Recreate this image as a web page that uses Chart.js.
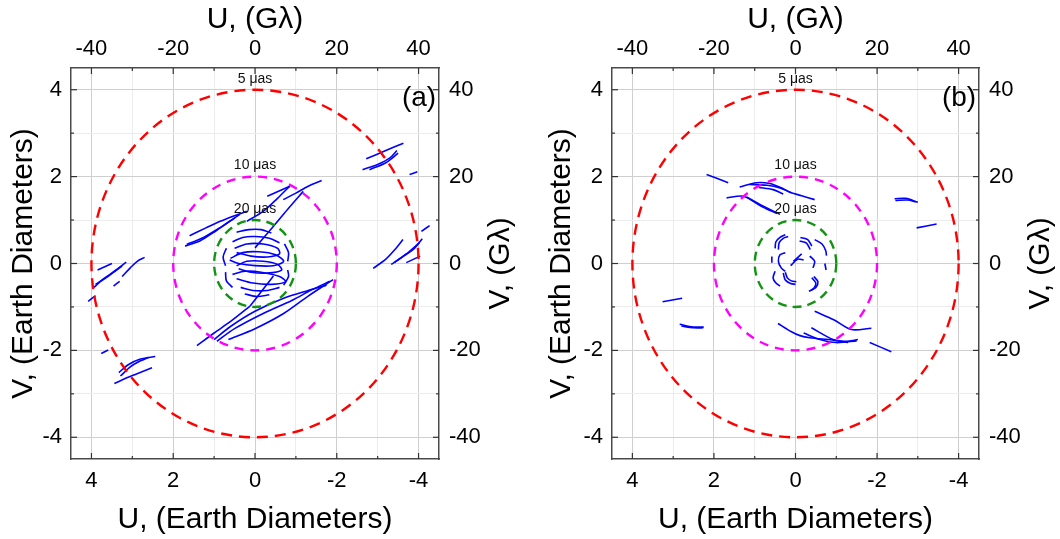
<!DOCTYPE html>
<html>
<head>
<meta charset="utf-8">
<script src="https://cdn.jsdelivr.net/npm/chart.js@4/dist/chart.umd.min.js"></script>
<style>
  body { margin: 0; background: #fff; }
  #wrap { position: relative; width: 1060px; height: 539px; }
  canvas { position: absolute; top: 0; }
</style>
</head>
<body>
<div id="wrap">
  <canvas id="panelA" width="530" height="539" style="left:0"></canvas>
  <canvas id="panelB" width="530" height="539" style="left:530px"></canvas>
</div>
<script>
// axis ticks (Earth diameters and G-lambda)
const edTicks = [-4, -3, -2, -1, 0, 1, 2, 3, 4];
const glTicks = [-40, -30, -20, -10, 0, 10, 20, 30, 40];
// resolution rings
const ringRadii = [4, 2, 1];
const ringLabels = ['5 \u03bcas', '10 \u03bcas', '20 \u03bcas'];
const panelLabels = ['(a)', '(b)'];

// panel (a) uv tracks, [u, v] in Earth diameters
const a_left = [
  [[3.85, -0.15], [3.5, 0.0]],
  [[3.94, -0.55], [3.7, -0.35], [3.4, -0.15], [3.15, 0.03]],
  [[3.9, -0.48], [3.6, -0.3], [3.25, -0.06]],
  [[4.08, -0.87], [3.9, -0.74]],
  [[3.46, -0.52], [3.31, -0.41]],
  [[3.25, -0.3], [3.05, -0.1], [2.88, 0.05], [2.7, 0.14]]
];
const a_lowLeft = [
  [[3.76, -2.07], [3.59, -1.99]],
  [[3.33, -2.51], [3.1, -2.33], [2.8, -2.2], [2.44, -2.14]],
  [[3.44, -2.76], [3.0, -2.58], [2.52, -2.4]],
  [[3.29, -2.59], [3.05, -2.38], [2.8, -2.24], [2.6, -2.16]]
];
const a_upRight = [
  [[-2.72, 2.41], [-3.2, 2.6], [-3.63, 2.77]],
  [[-2.63, 2.16], [-3.0, 2.28], [-3.3, 2.43], [-3.47, 2.6]],
  [[-2.8, 2.16], [-3.2, 2.32], [-3.5, 2.54]],
  [[-3.78, 2.05], [-3.97, 2.11]]
];
const a_right = [
  [[-2.89, -0.11], [-3.2, 0.1], [-3.45, 0.35], [-3.62, 0.55]],
  [[-3.33, -0.02], [-3.6, 0.15], [-3.9, 0.35], [-4.09, 0.57]],
  [[-3.7, 0.02], [-4.04, 0.17]],
  [[-4.07, 0.74], [-4.27, 0.87]],
  [[-3.41, 0.02], [-3.7, 0.22], [-4.02, 0.48]]
];
const a_upMid = [
  [[1.6, 0.64], [1.2, 0.82], [0.85, 0.97], [0.5, 1.1], [0.2, 1.2]],
  [[1.71, 0.4], [1.35, 0.52], [1.02, 0.71], [0.7, 0.92], [0.37, 1.13]],
  [[1.67, 0.44], [1.3, 0.58], [0.9, 0.8], [0.49, 1.05]],
  [[0.2, 0.97], [-0.2, 1.2], [-0.55, 1.5], [-0.85, 1.78]],
  [[-0.69, 1.47], [-1.0, 1.62], [-1.3, 1.78], [-1.63, 1.91]],
  [[-0.3, 1.55], [-0.85, 1.78]],
  [[0.0, 0.36], [-0.4, 0.8], [-0.8, 1.25], [-1.18, 1.66]]
];
const a_lowMid = [
  [[1.42, -1.89], [1.0, -1.6], [0.55, -1.3], [0.12, -0.98]],
  [[0.65, -1.75], [0.0, -1.5], [-0.7, -1.15], [-1.3, -0.75], [-1.91, -0.37]],
  [[0.93, -1.79], [0.5, -1.5], [-0.2, -1.15], [-0.9, -0.85], [-1.4, -0.6], [-1.83, -0.41]],
  [[1.0, -1.75], [0.6, -1.45], [0.0, -1.1], [-0.7, -0.8], [-1.3, -0.62], [-1.75, -0.5]],
  [[0.12, -0.98], [-0.15, -0.65], [-0.45, -0.29]]
];
const a_core = [
  [[0.45, 0.72], [0.15, 0.78], [-0.15, 0.78], [-0.4, 0.7]],
  [[0.55, 0.5], [0.3, 0.6], [0.0, 0.62], [-0.35, 0.58], [-0.6, 0.48]],
  [[0.5, 0.35], [0.2, 0.45], [-0.2, 0.45], [-0.55, 0.35], [-0.6, 0.22], [-0.3, 0.15], [0.1, 0.17], [0.45, 0.25]],
  [[0.6, 0.12], [0.3, 0.25], [-0.1, 0.27], [-0.5, 0.2], [-0.7, 0.05], [-0.45, -0.05], [0.0, -0.05], [0.4, 0.0], [0.62, 0.08]],
  [[0.45, -0.05], [0.2, 0.05], [-0.2, 0.05], [-0.55, -0.02], [-0.65, -0.15], [-0.3, -0.22], [0.1, -0.2], [0.4, -0.12]],
  [[0.55, -0.25], [0.25, -0.18], [-0.15, -0.2], [-0.6, -0.3], [-0.75, -0.42], [-0.4, -0.48], [0.05, -0.45], [0.45, -0.35]],
  [[0.35, -0.55], [0.05, -0.62], [-0.3, -0.62], [-0.6, -0.55]],
  [[0.25, -0.7], [-0.05, -0.76], [-0.35, -0.72]],
  [[-0.72, 0.45], [-0.82, 0.25], [-0.8, 0.05]],
  [[-0.8, -0.15], [-0.82, -0.3], [-0.7, -0.5]],
  [[0.7, 0.35], [0.78, 0.15], [0.72, -0.05]],
  [[0.72, -0.2], [0.7, -0.4], [0.55, -0.55]]
];

// panel (b) uv tracks
const b_upper = [
  [[2.18, 2.05], [1.65, 1.86]],
  [[1.37, 1.76], [0.96, 1.86], [0.63, 1.84], [0.3, 1.72], [0.14, 1.64], [-0.15, 1.56], [-0.47, 1.47]],
  [[1.13, 1.82], [0.7, 1.8], [0.38, 1.74], [0.1, 1.63]],
  [[0.9, 1.75], [0.55, 1.7], [0.3, 1.6]],
  [[1.69, 1.51], [1.28, 1.55], [0.85, 1.35], [0.38, 1.13]],
  [[1.2, 1.53], [0.8, 1.3], [0.45, 1.15]]
];
const b_upRight = [
  [[-2.43, 1.49], [-2.7, 1.5], [-3.0, 1.41]],
  [[-2.45, 1.45], [-2.75, 1.46], [-2.95, 1.42]],
  [[-2.97, 0.82], [-3.46, 0.91]]
];
const b_lower = [
  [[-0.47, -1.1], [-0.95, -1.3], [-1.37, -1.52], [-1.86, -1.49]],
  [[0.43, -1.38], [0.1, -1.57], [-0.11, -1.66], [-0.35, -1.71], [-0.8, -1.75], [-1.25, -1.79], [-1.53, -1.75]],
  [[-0.39, -1.48], [-0.92, -1.75], [-1.29, -1.82]],
  [[-0.2, -1.6], [-0.6, -1.75], [-1.0, -1.82], [-1.5, -1.78]],
  [[-1.82, -1.82], [-2.35, -2.03]]
];
const b_lowLeft = [
  [[3.26, -0.88], [2.78, -0.8]],
  [[2.84, -1.4], [2.51, -1.46], [2.25, -1.46]],
  [[2.8, -1.44], [2.5, -1.48], [2.26, -1.48]]
];
const b_core = [
  [[0.42, 0.32], [0.4, 0.48], [0.3, 0.58], [0.18, 0.62]],
  [[0.5, 0.35], [0.48, 0.5], [0.38, 0.6], [0.25, 0.66]],
  [[-0.1, 0.52], [-0.27, 0.47], [-0.36, 0.32]],
  [[-0.12, 0.6], [-0.3, 0.55], [-0.4, 0.4]],
  [[-0.47, 0.55], [-0.65, 0.45], [-0.74, 0.3], [-0.76, 0.18]],
  [[0.58, 0.16], [0.58, 0.02]],
  [[0.25, 0.25], [0.38, 0.2], [0.42, 0.05], [0.35, -0.1], [0.25, -0.18]],
  [[0.05, 0.05], [-0.15, 0.22]],
  [[0.12, -0.05], [-0.05, 0.1], [-0.2, 0.08]],
  [[-0.35, 0.17], [-0.47, 0.05], [-0.43, -0.1]],
  [[-0.72, 0.0], [-0.75, -0.15]],
  [[0.5, -0.18], [0.55, -0.33], [0.48, -0.45], [0.38, -0.52]],
  [[0.25, -0.2], [0.2, -0.33], [0.1, -0.4], [-0.02, -0.42]],
  [[0.3, -0.22], [0.25, -0.38], [0.12, -0.46], [0.0, -0.48]],
  [[-0.45, -0.3], [-0.55, -0.42], [-0.5, -0.55], [-0.38, -0.62]],
  [[-0.4, -0.33], [-0.5, -0.45], [-0.45, -0.57], [-0.33, -0.64]]
];

const tracksA = [...a_left, ...a_lowLeft, ...a_upRight, ...a_right, ...a_upMid, ...a_lowMid, ...a_core];
const tracksB = [...b_upper, ...b_upRight, ...b_lower, ...b_lowLeft, ...b_core];

const FONT = "'Liberation Sans', Arial, sans-serif";
const ringColors = ['#ff0000', '#ff00ff', '#139313'];
const ringDash = [[11, 7], [9, 7], [9, 6]];

function isMajor(scale, v) {
  return scale.id.endsWith('2') ? v % 20 === 0 : v % 2 === 0;
}

const decor = {
  id: 'decor',
  afterDatasetsDraw(chart) {
    const { ctx, scales: { x, y } } = chart;
    const cx = x.getPixelForValue(0), cy = y.getPixelForValue(0);
    ctx.save();
    ringRadii.forEach((r, i) => {
      const rx = Math.abs(x.getPixelForValue(r) - cx);
      const ry = Math.abs(y.getPixelForValue(r) - cy);
      ctx.beginPath();
      ctx.setLineDash(ringDash[i]);
      ctx.lineWidth = 2.4;
      ctx.strokeStyle = ringColors[i];
      ctx.ellipse(cx, cy, rx, ry, 0, 0, Math.PI * 2);
      ctx.stroke();
    });
    ctx.setLineDash([]);
    ctx.fillStyle = '#111';
    ctx.font = '14px ' + FONT;
    ctx.textAlign = 'center';
    ctx.textBaseline = 'middle';
    ringRadii.forEach((r, i) => {
      ctx.fillText(ringLabels[i], cx, y.getPixelForValue(r) - 11);
    });
    ctx.restore();
  },
  afterDraw(chart, args, opts) {
    const { ctx, chartArea: a } = chart;
    ctx.save();
    // inward tick marks
    ctx.strokeStyle = '#333';
    ctx.lineWidth = 1.2;
    Object.values(chart.scales).forEach(s => {
      s.ticks.forEach(t => {
        const len = isMajor(s, t.value) ? 6 : 3;
        const p = s.getPixelForValue(t.value);
        ctx.beginPath();
        if (s.position === 'bottom') { ctx.moveTo(p, a.bottom); ctx.lineTo(p, a.bottom - len); }
        if (s.position === 'top') { ctx.moveTo(p, a.top); ctx.lineTo(p, a.top + len); }
        if (s.position === 'left') { ctx.moveTo(a.left, p); ctx.lineTo(a.left + len, p); }
        if (s.position === 'right') { ctx.moveTo(a.right, p); ctx.lineTo(a.right - len, p); }
        ctx.stroke();
      });
    });
    // right title reads bottom-to-top
    ctx.fillStyle = '#000';
    ctx.font = '30px ' + FONT;
    ctx.textAlign = 'center';
    ctx.textBaseline = 'middle';
    ctx.translate(a.right + 62, (a.top + a.bottom) / 2);
    ctx.rotate(-Math.PI / 2);
    ctx.fillText('V, (G\u03bb)', 0, 0);
    ctx.restore();
    // panel label
    ctx.save();
    ctx.fillStyle = '#000';
    ctx.font = '28px ' + FONT;
    ctx.textAlign = 'center';
    ctx.textBaseline = 'middle';
    ctx.fillText(opts.label, a.right - 20, a.top + 30);
    ctx.restore();
  }
};

function makePanel(id, tracks, label, leftW, rightW, leftTitlePad) {
  const tickFont = { family: FONT, size: 22 };
  const titleFont = { family: FONT, size: 30, lineHeight: 1.2 };
  const gridColor = c => (c.tick && c.tick.value % 2 === 0) ? '#cfcfcf' : '#ececec';
  const setTicks = list => s => { s.ticks = list.map(v => ({ value: v })); };
  const edLabel = v => (v % 2 === 0 ? String(v) : '');
  const glLabel = v => (v % 20 === 0 ? String(v) : '');
  const border = { color: '#4a4a4a', width: 1.5 };

  new Chart(document.getElementById(id), {
    type: 'scatter',
    data: {
      datasets: tracks.map(tr => ({
        data: tr.map(([u, v]) => ({ x: u, y: v })),
        showLine: true,
        borderColor: '#0000ff',
        borderWidth: 1.6,
        pointRadius: 0,
        tension: 0.3
      }))
    },
    options: {
      responsive: false,
      animation: false,
      events: [],
      layout: { padding: 0 },
      plugins: { legend: { display: false }, tooltip: { enabled: false }, decor: { label } },
      scales: {
        x: {
          position: 'bottom', reverse: true, min: -4.5, max: 4.5,
          afterBuildTicks: setTicks(edTicks),
          afterFit: s => { s.height = 80; },
          ticks: { callback: edLabel, font: tickFont, color: '#000', padding: 9, maxRotation: 0, autoSkip: false },
          grid: { color: gridColor, drawTicks: false },
          border,
          title: { display: true, text: 'U, (Earth Diameters)', font: titleFont, color: '#000', padding: { top: 0, bottom: 1 } }
        },
        y: {
          position: 'left', min: -4.5, max: 4.5,
          afterBuildTicks: setTicks(edTicks),
          afterFit: s => { s.width = leftW; },
          ticks: { callback: edLabel, font: tickFont, color: '#000', padding: 9, autoSkip: false },
          grid: { color: gridColor, drawTicks: false },
          border,
          title: { display: true, text: 'V, (Earth Diameters)', font: titleFont, color: '#000', padding: { top: leftTitlePad, bottom: 0 } }
        },
        x2: {
          type: 'linear', position: 'top', min: -45, max: 45,
          afterBuildTicks: setTicks(glTicks),
          afterFit: s => { s.height = 68; },
          ticks: { callback: glLabel, font: tickFont, color: '#000', padding: 6, maxRotation: 0, autoSkip: false },
          grid: { drawOnChartArea: false, drawTicks: false },
          border,
          title: { display: true, text: 'U, (G\u03bb)', font: titleFont, color: '#000', padding: { top: 2, bottom: 0 } }
        },
        y2: {
          type: 'linear', position: 'right', min: -45, max: 45,
          afterBuildTicks: setTicks(glTicks),
          afterFit: s => { s.width = rightW; },
          ticks: { callback: glLabel, font: tickFont, color: '#000', padding: 10, autoSkip: false },
          grid: { drawOnChartArea: false, drawTicks: false },
          border
        }
      }
    },
    plugins: [decor]
  });
}

makePanel('panelA', tracksA, panelLabels[0], 71, 91, 6);
makePanel('panelB', tracksB, panelLabels[1], 82, 81, 14);
</script>
</body>
</html>
